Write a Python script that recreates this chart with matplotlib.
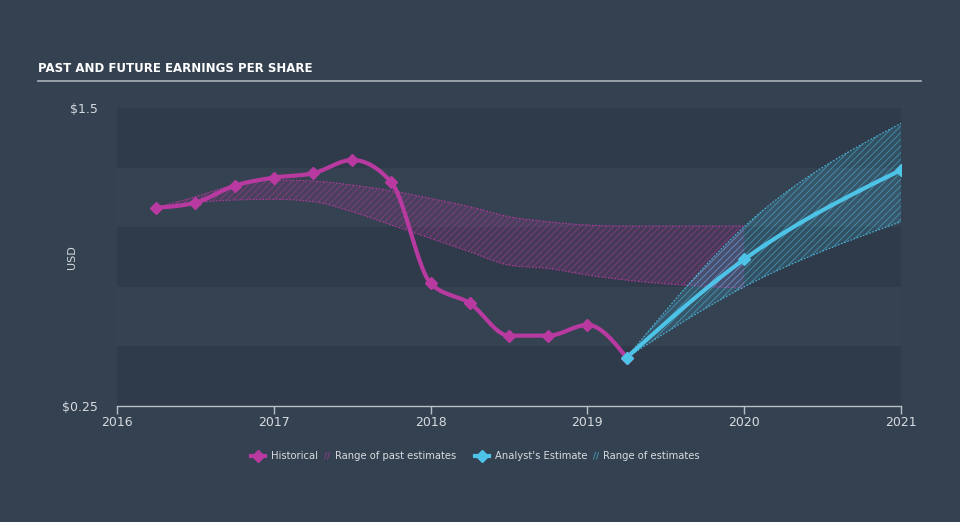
#!/usr/bin/env python3
"""Past and future earnings per share: historical EPS vs analyst estimates."""

import matplotlib
matplotlib.use("Agg")
import matplotlib.pyplot as plt
from matplotlib import font_manager
import numpy as np

# ---------------------------------------------------------------------------
# Data
# ---------------------------------------------------------------------------
hist_dates = [2016.25, 2016.50, 2016.75, 2017.00, 2017.25, 2017.50, 2017.75,
              2018.00, 2018.25, 2018.50, 2018.75, 2019.00, 2019.25]
hist_eps = [1.082, 1.103, 1.174, 1.208, 1.226, 1.282, 1.188,
            0.765, 0.681, 0.545, 0.545, 0.590, 0.453]

past_dates = [2016.25, 2016.50, 2016.75, 2017.00, 2017.25, 2017.50, 2017.75,
              2018.00, 2018.25, 2018.50, 2018.75, 2019.00, 2019.25, 2020.00]
past_high = [1.082, 1.128, 1.177, 1.198, 1.194, 1.177, 1.153,
             1.121, 1.086, 1.044, 1.023, 1.009, 1.005, 1.005]
past_low = [1.082, 1.103, 1.114, 1.117, 1.107, 1.065, 1.009,
            0.953, 0.897, 0.841, 0.827, 0.799, 0.778, 0.744]

est_dates = [2019.25, 2020.00, 2021.00]
est_eps = [0.453, 0.865, 1.240]
est_high = [0.453, 1.002, 1.436]
est_low = [0.453, 0.750, 1.023]

year_ticks = [2016, 2017, 2018, 2019, 2020, 2021]
y_ticks = [0.25, 1.5]
y_tick_labels = ["$0.25", "$1.5"]

BG = "#344150"
BAND_DARK = "#2f3b4a"
BAND_LIGHT = "#344251"
MAGENTA = "#b83aa0"
CYAN = "#4ec3e8"
TEXT = "#d6dbe0"


def pick_title_font():
    """Prefer a narrow bold face for the title; fall back to DejaVu Sans."""
    for fam in ("Liberation Sans Narrow", "DejaVu Sans Condensed"):
        try:
            font_manager.findfont(font_manager.FontProperties(family=fam, weight="bold"),
                                  fallback_to_default=False)
            return fam, 10
        except Exception:
            pass
    return "DejaVu Sans", 8.5


def monotone(x, y, n=40):
    """Monotone cubic curve (d3 curveMonotoneX style) through the points, for drawing."""
    x = np.asarray(x, float)
    y = np.asarray(y, float)
    h = np.diff(x)
    s = np.diff(y) / h
    m = np.zeros_like(y)
    for i in range(1, len(y) - 1):
        p = (s[i - 1] * h[i] + s[i] * h[i - 1]) / (h[i - 1] + h[i])
        m[i] = (np.sign(s[i - 1]) + np.sign(s[i])) * min(abs(s[i - 1]), abs(s[i]), 0.5 * abs(p))
    if len(y) > 2:
        m[0] = (3 * s[0] - m[1]) / 2
        m[-1] = (3 * s[-1] - m[-2]) / 2
    else:
        m[:] = s[0]
    xs, ys = [], []
    for i in range(len(x) - 1):
        t = np.linspace(0, 1, n, endpoint=(i == len(x) - 2))
        h00 = 2 * t**3 - 3 * t**2 + 1
        h10 = t**3 - 2 * t**2 + t
        h01 = -2 * t**3 + 3 * t**2
        h11 = t**3 - t**2
        xs.append(x[i] + t * h[i])
        ys.append(h00 * y[i] + h10 * h[i] * m[i] + h01 * y[i + 1] + h11 * h[i] * m[i + 1])
    return np.concatenate(xs), np.concatenate(ys)


def draw_range(ax, dates, high, low, color):
    xh, yh = monotone(dates, high)
    _, yl = monotone(dates, low)
    ax.fill_between(xh, yl, yh, facecolor=color, alpha=0.16, linewidth=0, zorder=2)
    ax.fill_between(xh, yl, yh, facecolor="none", edgecolor=color, hatch="/////",
                    linewidth=0, alpha=0.55, zorder=2)
    ax.plot(xh, yh, color=color, lw=0.8, ls=(0, (1.5, 1.5)), alpha=0.9, zorder=2)
    ax.plot(xh, yl, color=color, lw=0.8, ls=(0, (1.5, 1.5)), alpha=0.9, zorder=2)


def main() -> int:
    plt.rcParams["hatch.linewidth"] = 0.6
    fig = plt.figure(figsize=(9.6, 5.22), dpi=100, facecolor=BG)
    ax = fig.add_axes([117 / 960, 1 - 406 / 522, 784 / 960, 298 / 522])
    ax.set_facecolor(BG)
    ax.set_xlim(2016, 2021)
    ax.set_ylim(0.25, 1.5)

    # alternating horizontal bands
    edges = np.linspace(0.25, 1.5, 6)
    for i in range(5):
        ax.axhspan(edges[i], edges[i + 1], color=BAND_DARK if i % 2 == 0 else BAND_LIGHT,
                   lw=0, zorder=0)

    draw_range(ax, past_dates, past_high, past_low, MAGENTA)
    draw_range(ax, est_dates, est_high, est_low, CYAN)

    xs, ys = monotone(hist_dates, hist_eps)
    ax.plot(xs, ys, color=MAGENTA, lw=3, zorder=4, solid_capstyle="round")
    ax.plot(hist_dates, hist_eps, ls="none", marker="D", ms=6, color=MAGENTA, zorder=5)

    xs, ys = monotone(est_dates, est_eps)
    ax.plot(xs, ys, color=CYAN, lw=3, zorder=4, solid_capstyle="round")
    ax.plot(est_dates, est_eps, ls="none", marker="D", ms=6, color=CYAN, zorder=5)

    # axes styling
    for side in ("top", "right", "left"):
        ax.spines[side].set_visible(False)
    ax.spines["bottom"].set_color("#b8c0c8")
    ax.spines["bottom"].set_linewidth(1)
    ax.set_xticks(year_ticks)
    ax.set_xticklabels([str(y) for y in year_ticks])
    ax.tick_params(axis="x", colors="#b8c0c8", length=6, width=1, labelcolor=TEXT,
                   labelsize=9, pad=1)
    ax.set_yticks(y_ticks)
    ax.set_yticklabels(y_tick_labels)
    ax.tick_params(axis="y", length=0, labelcolor=TEXT, labelsize=9, pad=14)
    fig.text(72 / 960, 1 - 257 / 522, "USD", color=TEXT, fontsize=8, rotation=90,
             ha="center", va="center")

    # title with rule
    fam, size = pick_title_font()
    fig.text(38 / 960, 1 - 68 / 522, "PAST AND FUTURE EARNINGS PER SHARE", color="white",
             fontsize=size, fontweight="bold", va="center", ha="left", family=fam)
    fig.add_artist(plt.Line2D([38 / 960, 921 / 960], [1 - 81 / 522, 1 - 81 / 522],
                              color="#aab2ba", lw=1.2))

    # legend
    ly = 1 - 456 / 522
    items = [
        (258, MAGENTA, "Historical"),
        (482, CYAN, "Analyst's Estimate"),
    ]
    for x0, col, lab in items:
        fig.add_artist(plt.Line2D([(x0 - 7) / 960, (x0 + 7) / 960], [ly, ly],
                                  color=col, lw=3))
        fig.add_artist(plt.Line2D([x0 / 960], [ly], color=col, marker="D", ms=6, ls="none"))
        fig.text((x0 + 13) / 960, ly, lab, color=TEXT, fontsize=7.2, va="center", ha="left")
    fig.text(324 / 960, ly, "//", color=MAGENTA, fontsize=6.5, va="center", ha="left",
             alpha=0.8)
    fig.text(335 / 960, ly, "Range of past estimates", color=TEXT, fontsize=7.2,
             va="center", ha="left")
    fig.text(593 / 960, ly, "//", color=CYAN, fontsize=6.5, va="center", ha="left",
             alpha=0.8)
    fig.text(603 / 960, ly, "Range of estimates", color=TEXT, fontsize=7.2,
             va="center", ha="left")

    fig.savefig("out.png", dpi=100, facecolor=BG)
    plt.close(fig)
    return 0


if __name__ == "__main__":
    raise SystemExit(main())
